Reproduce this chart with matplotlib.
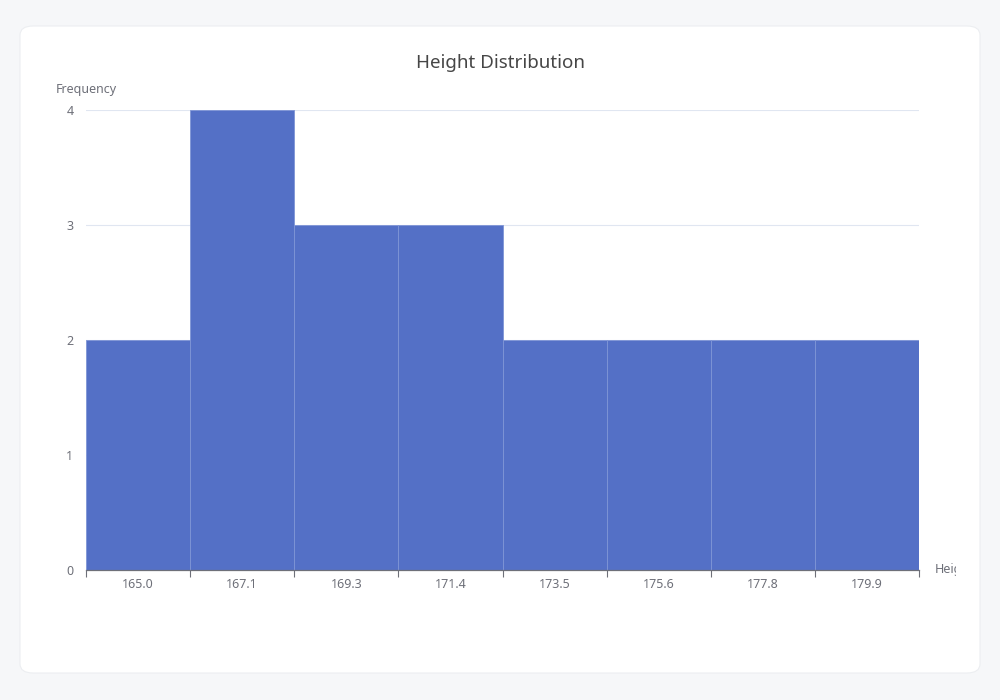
import matplotlib
matplotlib.use("Agg")
import matplotlib.pyplot as plt
from matplotlib.patches import FancyBboxPatch, Rectangle

# data
bin_labels = ['165.0', '167.1', '169.3', '171.4', '173.5', '175.6', '177.8', '179.9']
counts = [2, 4, 3, 3, 2, 2, 2, 2]

plt.rcParams['font.family'] = ['Noto Sans', 'DejaVu Sans']

fig = plt.figure(figsize=(10, 7), dpi=100)
fig.patch.set_facecolor('#f6f7f9')

# white card behind everything
card = FancyBboxPatch((0.02, 1 - 673 / 700), 0.96, (673 - 26) / 700,
                      boxstyle='round,pad=0,rounding_size=0.013',
                      transform=fig.transFigure, facecolor='white',
                      edgecolor='#eceef1', linewidth=0.8, zorder=-5)
fig.patches.append(card)

ax = fig.add_axes([0.086, 1 - 570 / 700, 0.919 - 0.086, (570 - 110) / 700])
ax.set_facecolor('none')

pos = list(range(len(counts)))
ax.bar(pos, counts, width=1.0, color='#5470c6', edgecolor='#7f95d6', linewidth=0.6, zorder=2)

ax.set_xlim(-0.5, len(counts) - 0.5)
ax.set_ylim(0, 4)
ax.set_yticks([0, 1, 2, 3, 4])
ax.yaxis.grid(True, color='#e0e6f1', linewidth=0.8, zorder=0)
ax.set_axisbelow(True)

# tick marks at bin edges, labels at bin centres
ax.set_xticks([p - 0.5 for p in pos] + [len(counts) - 0.5])
ax.set_xticklabels([])
ax.set_xticks(pos, minor=True)
ax.set_xticklabels(bin_labels, minor=True)
ax.tick_params(axis='x', which='major', length=5, color='#6e7079', width=0.8)
ax.tick_params(axis='x', which='minor', length=0, pad=6, labelsize=9, labelcolor='#6e7079')
ax.tick_params(axis='y', length=0, pad=9, labelsize=9, labelcolor='#6e7079')

for s in ['top', 'right', 'left']:
    ax.spines[s].set_visible(False)
ax.spines['bottom'].set_color('#6e7079')
ax.spines['bottom'].set_linewidth(0.9)

fig.text(0.5, 1 - 63 / 700, 'Height Distribution', ha='center', va='center',
         fontsize=13.5, color='#464646')
fig.text(0.056, 1 - 89 / 700, 'Frequency', ha='left', va='center',
         fontsize=9, color='#6e7079')
t = fig.text(0.935, 1 - 569 / 700, 'Height', ha='left', va='center',
             fontsize=9, color='#6e7079')
t.set_clip_path(Rectangle((0, 0), 0.956, 1, transform=fig.transFigure))

fig.savefig('out.png', dpi=100, facecolor=fig.get_facecolor())
